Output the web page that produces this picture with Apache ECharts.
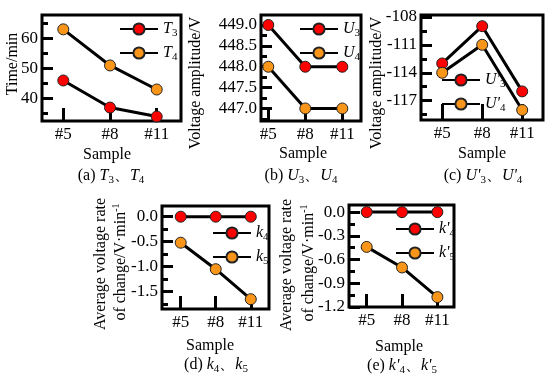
<!DOCTYPE html>
<html><head><meta charset="utf-8">
<script src="https://cdn.jsdelivr.net/npm/echarts@6/dist/echarts.min.js"></script>
<style>html,body{margin:0;padding:0;background:#fff}#c{width:550px;height:382px}</style>
</head><body><div id="c"></div>
<script>
// ---- data ----
const samples = ['#5', '#8', '#11'];
const T3 = [46, 37, 34];
const T4 = [63, 51, 43];
const U3 = [449.0, 448.0, 448.0];
const U4 = [448.0, 447.0, 447.0];
const U3p = [-113, -109, -116];
const U4p = [-114, -111, -118];
const k4 = [0, 0, 0];
const k5 = [-0.52, -1.05, -1.65];
const k4p = [0, 0, 0];
const k5p = [-0.44, -0.70, -1.075];
const ticksA = [40, 50, 60];
const minorA = [35, 45, 55, 65];
const ticksB = [447.0, 447.5, 448.0, 448.5, 449.0];
const minorB = [446.75, 447.25, 447.75, 448.25, 448.75];
const ticksC = [-117, -114, -111, -108];
const minorC = [-118.5, -115.5, -112.5, -109.5];
const ticksD = [-1.5, -1.0, -0.5, 0.0];
const minorD = [-1.75, -1.25, -0.75, -0.25];
const ticksE = [-1.2, -0.9, -0.6, -0.3, 0.0];
const minorE = [-1.05, -0.75, -0.45, -0.15];

// ---- style ----
const FONT = 'Liberation Serif';
const RED = '#ff0000';
const ORANGE = '#f9961a';
const FS = 16;
const TFS = 17;

const panels = [
  {grid:{left:42,top:15,width:139,height:106}, xr:[-0.456,2.52], yr:[32.53,67.77], ticks:ticksA, minor:minorA, dec:0,
   series:[['T3',T3,RED],['T4',T4,ORANGE]], legend:{left:119,top:21}, xTick:13},
  {grid:{left:261,top:15,width:100,height:106}, xr:[-0.197,2.505], yr:[446.70,449.24], ticks:ticksB, minor:minorB, dec:1,
   series:[['U3',U3,RED],['U4',U4,ORANGE]], legend:{left:299,top:21}, xTick:13},
  {grid:{left:421,top:15,width:122,height:105}, xr:[-0.53,2.52], yr:[-119.07,-107.8], ticks:ticksC, minor:minorC, dec:0,
   series:[["U'3",U3p,RED],["U'4",U4p,ORANGE]], legend:{left:441,top:72}, xTick:16},
  {grid:{left:162,top:206,width:107,height:103}, xr:[-0.534,2.52], yr:[-1.846,0.214], ticks:ticksD, minor:minorD, dec:1,
   series:[['k4',k4,RED],['k5',k5,ORANGE]], legend:{left:212,top:225}, xTick:13},
  {grid:{left:349,top:205,width:105,height:102}, xr:[-0.5,2.47], yr:[-1.2,0.09], ticks:ticksE, minor:minorE, dec:1,
   series:[["k'4",k4p,RED],["k'5",k5p,ORANGE]], legend:{left:395,top:221}, xTick:13}
];

const grid = [], xAxis = [], yAxis = [], series = [], legend = [];
const subRich = {
  n: {fontFamily: FONT, fontSize: FS, color: '#000'},
  i: {fontFamily: FONT, fontSize: FS, fontStyle: 'italic', color: '#000'},
  s: {fontFamily: FONT, fontSize: 11, color: '#000', padding: [9, 0, 0, 0]},
  p: {fontFamily: FONT, fontSize: 10, color: '#000', padding: [0, 0, 9, 0]}
};
function subName(name) {
  return '{i|' + name.slice(0, -1) + '}{s|' + name.slice(-1) + '}';
}

panels.forEach((p, gi) => {
  grid.push(Object.assign({show: true, borderColor: '#000', borderWidth: 3, backgroundColor: 'transparent'}, p.grid));
  xAxis.push({
    type: 'value', gridIndex: gi, min: p.xr[0], max: p.xr[1],
    axisLine: {show: false, onZero: false},
    splitLine: {show: false},
    axisTick: {show: true, inside: true, length: p.xTick, lineStyle: {color: '#000', width: 3}, customValues: [0, 1, 2]},
    axisLabel: {customValues: [0, 1, 2], formatter: v => samples[Math.round(v)], fontFamily: FONT, fontSize: TFS, color: '#000', margin: 5}
  });
  yAxis.push({
    type: 'value', gridIndex: gi, min: p.yr[0], max: p.yr[1], position: 'left',
    axisLine: {show: false, onZero: false},
    splitLine: {show: false},
    axisTick: {show: true, inside: true, length: 11, lineStyle: {color: '#000', width: 3}, customValues: p.ticks},
    axisLabel: {customValues: p.ticks, formatter: v => v.toFixed(p.dec), fontFamily: FONT, fontSize: TFS, color: '#000', margin: 4}
  });
  yAxis.push({
    type: 'value', gridIndex: gi, min: p.yr[0], max: p.yr[1], position: 'left',
    axisLine: {show: false, onZero: false},
    splitLine: {show: false},
    axisTick: {show: true, inside: true, length: 6, lineStyle: {color: '#000', width: 3}, customValues: p.minor},
    axisLabel: {show: false}
  });
  p.series.forEach(([name, vals, col]) => {
    series.push({
      name: name, type: 'line', xAxisIndex: gi, yAxisIndex: gi * 2,
      data: vals.map((v, i) => [i, v]),
      symbol: 'circle', symbolSize: 11,
      itemStyle: {color: col, borderColor: '#222', borderWidth: 1},
      lineStyle: {color: '#000', width: 3},
      emphasis: {disabled: true}, clip: false
    });
  });
  legend.push({
    orient: 'vertical', left: p.legend.left, top: p.legend.top,
    data: p.series.map(s => s[0]), itemWidth: 38, itemHeight: 14, itemGap: 6,
    selectedMode: false, padding: 0, z: 10,
    formatter: subName,
    textStyle: {fontFamily: FONT, fontSize: FS, color: '#000', rich: subRich}
  });
});

function txt(x, y, text, rot) {
  return {type: 'text', x: x, y: y, rotation: rot ? Math.PI / 2 : 0,
    style: {text: text, align: 'center', verticalAlign: 'middle', fontFamily: FONT, fontSize: FS, fill: '#000', rich: subRich}};
}
const graphic = [
  txt(12.5, 64, 'Time/min', true),
  txt(196, 83, 'Voltage amplitude/V', true),
  txt(377, 83, 'Voltage amplitude/V', true),
  txt(101, 264, 'Average voltage rate', true),
  txt(121, 262, '{n|of change/V·min}{p|-1}', true),
  txt(287, 265, 'Average voltage rate', true),
  txt(309, 263, '{n|of change/V·min}{p|-1}', true),
  txt(107, 155, 'Sample'),
  txt(303, 154, 'Sample'),
  txt(482, 154, 'Sample'),
  txt(210, 346, 'Sample'),
  txt(399, 347, 'Sample'),
  txt(111, 176, '{n|(a) }{i|T}{s|3}{n|、}{i|T}{s|4}'),
  txt(301, 176, '{n|(b) }{i|U}{s|3}{n|、}{i|U}{s|4}'),
  txt(483, 176, "{n|(c) }{i|U'}{s|3}{n|、}{i|U'}{s|4}"),
  txt(216, 365, '{n|(d) }{i|k}{s|4}{n|、}{i|k}{s|5}'),
  txt(402, 366, "{n|(e) }{i|k'}{s|4}{n|、}{i|k'}{s|5}")
];

const chart = echarts.init(document.getElementById('c'), null, {renderer: 'canvas'});
chart.setOption({animation: false, backgroundColor: '#fff', grid, xAxis, yAxis, series, legend, graphic});
</script>
</body></html>
